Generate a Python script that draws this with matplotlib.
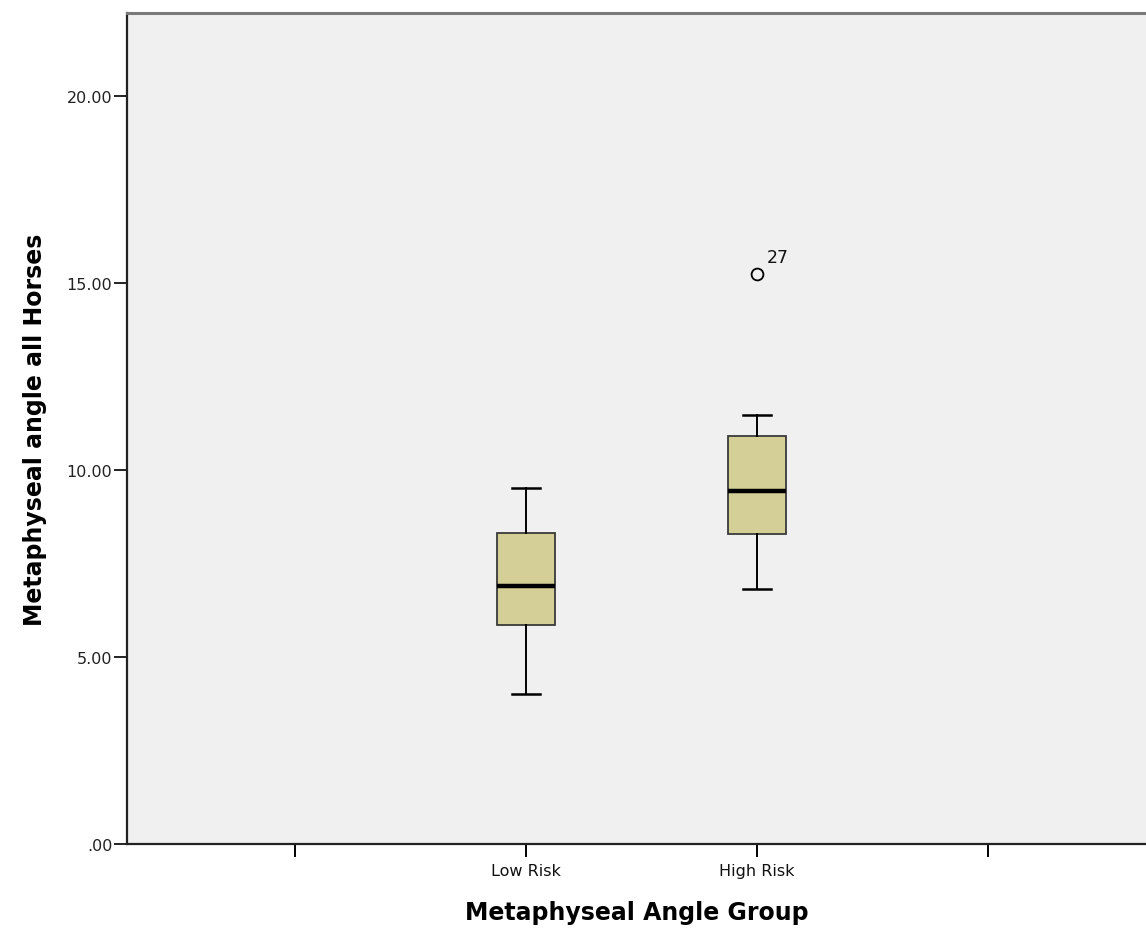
import matplotlib
matplotlib.use("Agg")
import matplotlib.pyplot as plt

# Summary statistics per group
groups = ["Low Risk", "High Risk"]
positions = [2, 3]
whisker_low = [4.00, 6.81]
q1 = [5.86, 8.29]
median = [6.91, 9.43]
q3 = [8.31, 10.90]
whisker_high = [9.51, 11.47]
outliers = [[], [15.24]]
outlier_ids = [[], ["27"]]

yticks = [0, 5, 10, 15, 20]
ytick_labels = [".00", "5.00", "10.00", "15.00", "20.00"]

W, H = 1146, 929
fig = plt.figure(figsize=(W / 100, H / 100), dpi=100)
ax = fig.add_axes([127 / W, 84 / H, 1 - 127 / W, (845 - 14) / H])
ax.set_facecolor("#f0f0f0")

stats = []
for i in range(len(groups)):
    stats.append(dict(med=median[i], q1=q1[i], q3=q3[i],
                      whislo=whisker_low[i], whishi=whisker_high[i],
                      fliers=outliers[i], label=groups[i]))

ax.bxp(stats, positions=positions, widths=0.25, patch_artist=True,
       boxprops=dict(facecolor="#d3cf96", edgecolor="#3a3a3a", linewidth=1.3),
       medianprops=dict(color="black", linewidth=3.2),
       whiskerprops=dict(color="black", linewidth=1.4),
       capprops=dict(color="black", linewidth=1.8),
       capwidths=0.12,
       flierprops=dict(marker="o", markerfacecolor="none", markeredgecolor="black",
                       markersize=8.5, markeredgewidth=1.3))

for pos, vals, ids in zip(positions, outliers, outlier_ids):
    for v, lab in zip(vals, ids):
        ax.annotate(lab, (pos, v), xytext=(7, 9), textcoords="offset points",
                    fontsize=12.5, color="#111111")

ax.set_xlim(1 - 168 / 231, 1 - 168 / 231 + (W - 127) / 231)
ax.set_ylim(0, (845 - 14) / 37.4)
ax.set_xticks([1, 2, 3, 4])
ax.set_xticklabels(["", "Low Risk", "High Risk", ""], fontsize=11.5)
ax.set_yticks(yticks)
ax.set_yticklabels(ytick_labels, fontsize=11.5)

ax.tick_params(axis="x", length=9.5, width=1.4, pad=4, colors="black", labelcolor="#111111")
ax.tick_params(axis="y", length=9.5, width=1.4, pad=1, colors="#222222", labelcolor="#222222")

for s in ["left", "bottom"]:
    ax.spines[s].set_linewidth(1.6)
    ax.spines[s].set_color("#222222")
ax.spines["top"].set_linewidth(2.2)
ax.spines["top"].set_color("#7a7a7a")
ax.spines["right"].set_visible(False)

ax.set_xlabel("Metaphyseal Angle Group", fontsize=17, fontweight="bold", labelpad=16)
ax.set_ylabel("Metaphyseal angle all Horses", fontsize=17, fontweight="bold", labelpad=14)

fig.savefig("out.png", dpi=100)
